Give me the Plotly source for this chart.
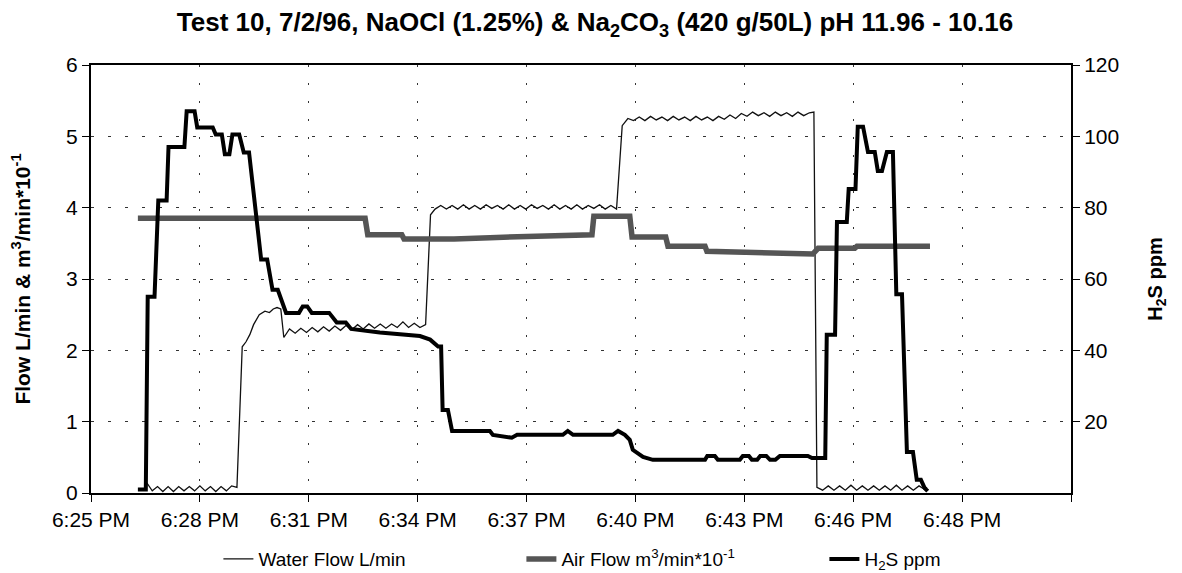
import plotly.graph_objects as go

# ---- data (minutes after the axis start at 6:25 PM) ----
tick_step_min = 2.88
x_tick_labels = ["6:25 PM", "6:28 PM", "6:31 PM", "6:34 PM", "6:37 PM",
                 "6:40 PM", "6:43 PM", "6:46 PM", "6:48 PM", ""]

water_t = [1.48, 1.62, 1.76, 1.90, 2.04, 2.18, 2.32, 2.46, 2.60, 2.74, 2.88, 3.02,
           3.16, 3.30, 3.44, 3.58, 3.72, 3.86,
           4.00, 4.10, 4.20, 4.30, 4.45, 4.60, 4.72, 4.82, 4.92, 5.02, 5.10,
           5.25, 5.40, 5.55, 5.70, 5.85, 6.00, 6.15, 6.30, 6.45, 6.60, 6.75, 6.90,
           7.05, 7.20, 7.35, 7.50, 7.65, 7.80, 7.95, 8.10, 8.25, 8.40, 8.55, 8.70, 8.85,
           8.98, 9.10,
           9.25, 9.40, 9.55, 9.70, 9.85, 10.00, 10.15, 10.30, 10.45, 10.60, 10.75, 10.90,
           11.05, 11.20, 11.35, 11.50, 11.65, 11.80, 11.95, 12.10, 12.25, 12.40, 12.55,
           12.70, 12.85, 13.00, 13.15, 13.30, 13.45, 13.60, 13.75, 13.90,
           14.05, 14.20,
           14.35, 14.50, 14.65, 14.80, 14.95, 15.10, 15.25, 15.40, 15.55, 15.70, 15.85,
           16.00, 16.15, 16.30, 16.45, 16.60, 16.75, 16.90, 17.05, 17.20, 17.35, 17.50,
           17.65, 17.80, 17.95, 18.10, 18.25, 18.40, 18.55, 18.70, 18.85, 19.00, 19.12,
           19.20,
           19.35, 19.50, 19.65, 19.80, 19.95, 20.10, 20.25, 20.40, 20.55, 20.70, 20.85,
           21.00, 21.15, 21.30, 21.45, 21.60, 21.75, 21.90, 22.05, 22.11]
water_flow = [0.14, 0.03, 0.09, 0.02, 0.09, 0.02, 0.09, 0.03, 0.09, 0.03, 0.10, 0.03,
              0.09, 0.02, 0.09, 0.03, 0.10, 0.08,
              2.05, 2.12, 2.22, 2.36, 2.50, 2.55, 2.53, 2.58, 2.60, 2.58, 2.18,
              2.30, 2.24, 2.31, 2.25, 2.32, 2.26, 2.33, 2.27, 2.34, 2.28, 2.35, 2.29,
              2.36, 2.30, 2.37, 2.31, 2.37, 2.31, 2.37, 2.32, 2.40, 2.32, 2.38, 2.32, 2.36,
              3.90, 3.98,
              4.03, 3.98, 4.03, 3.98, 4.04, 3.98, 4.03, 3.98, 4.04, 3.99, 4.03, 3.98,
              4.04, 3.98, 4.03, 3.98, 4.04, 3.99, 4.03, 3.98, 4.04, 3.98, 4.03,
              3.98, 4.04, 3.98, 4.03, 3.99, 4.04, 3.98, 4.03, 3.98,
              5.15, 5.25,
              5.22, 5.27, 5.22, 5.28, 5.23, 5.27, 5.22, 5.28, 5.23, 5.27, 5.22,
              5.28, 5.23, 5.27, 5.22, 5.28, 5.24, 5.30, 5.25, 5.32, 5.28, 5.34,
              5.29, 5.33, 5.28, 5.34, 5.29, 5.33, 5.28, 5.34, 5.29, 5.33, 5.34,
              0.08,
              0.04, 0.10, 0.04, 0.10, 0.04, 0.11, 0.04, 0.10, 0.04, 0.10, 0.04,
              0.10, 0.04, 0.11, 0.04, 0.10, 0.04, 0.10, 0.05, 0.08]

air_t = [1.24, 7.25, 7.32, 8.22, 8.28, 9.60, 10.55, 11.70, 13.25, 13.30, 14.25, 14.31,
         15.20, 15.26, 16.24, 16.29, 19.09, 19.23, 20.20, 20.26, 22.19]
air_flow = [3.85, 3.85, 3.62, 3.62, 3.56, 3.56, 3.58, 3.60, 3.62, 3.88, 3.88, 3.59,
            3.59, 3.46, 3.46, 3.39, 3.35, 3.43, 3.43, 3.46, 3.46]

h2s_t = [1.24, 1.45, 1.50, 1.68, 1.78, 2.00, 2.05, 2.47, 2.53, 2.74, 2.81, 3.22,
         3.30, 3.46, 3.54, 3.66, 3.74, 3.92, 4.04, 4.18, 4.50, 4.66, 4.80, 4.94,
         5.16, 5.50, 5.60, 5.72, 5.84, 6.30, 6.50, 6.74, 6.88, 7.64, 8.70, 8.97,
         9.18, 9.26, 9.30, 9.44, 9.55, 10.55, 10.63, 11.00, 11.13, 11.27, 12.48, 12.61,
         12.75, 13.80, 13.94, 14.12, 14.25, 14.33, 14.60, 14.86, 16.24, 16.30, 16.50, 16.58,
         17.16, 17.24, 17.40, 17.48, 17.62, 17.70, 17.86, 17.96, 18.10, 18.22, 18.96, 19.07,
         19.42, 19.46, 19.68, 19.73, 19.99, 20.04, 20.22, 20.28, 20.42, 20.55, 20.73, 20.81,
         20.92, 21.05, 21.21, 21.30, 21.45, 21.58, 21.74, 21.84, 21.95, 22.05, 22.13]
h2s_ppm = [1, 1, 55, 55, 82, 82, 97, 97, 107, 107, 102.5, 102.5,
           100.5, 100.5, 95, 95, 100.5, 100.5, 95.5, 95.5, 65.5, 65.5, 57, 57,
           50.5, 50.5, 52.3, 52.3, 50.5, 50.5, 47.8, 47.8, 46, 45, 44, 43,
           41.1, 41.1, 23.3, 23.3, 17.4, 17.4, 16.3, 15.8, 15.5, 16.3, 16.3, 17.4,
           16.3, 16.3, 17.4, 16.3, 14.9, 12.1, 10.1, 9.3, 9.3, 10.4, 10.4, 9.3,
           9.3, 10.4, 10.4, 9.3, 9.3, 10.4, 10.4, 9.3, 9.3, 10.4, 10.4, 9.8,
           9.8, 44.4, 44.4, 76, 76, 85.2, 85.2, 102.7, 102.7, 95.6, 95.6, 90.3,
           90.3, 95.6, 95.6, 55.7, 55.7, 11.5, 11.5, 3.7, 3.7, 1.4, 0.5]

left_ticks = [0, 1, 2, 3, 4, 5, 6]
right_ticks = [20, 40, 60, 80, 100, 120]

FONT = "Liberation Sans, Arial, sans-serif"

fig = go.Figure()
fig.add_trace(go.Scatter(x=water_t, y=water_flow, mode="lines",
                         name="Water Flow L/min",
                         line=dict(color="#111111", width=1.3)))
fig.add_trace(go.Scatter(x=air_t, y=air_flow, mode="lines",
                         name="Air Flow m<sup>3</sup>/min*10<sup>-1</sup>",
                         line=dict(color="#555555", width=5.5)))
fig.add_trace(go.Scatter(x=h2s_t, y=h2s_ppm, mode="lines", yaxis="y2",
                         name="H<sub>2</sub>S ppm",
                         line=dict(color="#000000", width=4)))

n_ticks = len(x_tick_labels)
# the page body adds an 8px margin, so the figure is 8px smaller than the window
fig.update_layout(
    width=1174, height=565,
    paper_bgcolor="white", plot_bgcolor="white",
    margin=dict(l=83, r=111, t=57, b=80, autoexpand=False),
    font=dict(family=FONT, size=21, color="black"),
    title=dict(text="<b>Test 10, 7/2/96, NaOCl (1.25%) &amp; Na<sub>2</sub>CO<sub>3</sub> (420 g/50L) pH 11.96 - 10.16</b>",
               x=0.5, xanchor="center", y=0.975, yanchor="middle",
               font=dict(family=FONT, size=26, color="black")),
    xaxis=dict(range=[0, tick_step_min * (n_ticks - 1)],
               tickmode="array",
               tickvals=[tick_step_min * i for i in range(n_ticks)],
               ticktext=x_tick_labels,
               showgrid=True, gridcolor="#333333", gridwidth=1, griddash="2px,16px",
               showline=True, linecolor="black", linewidth=2, mirror=True,
               ticks="outside", ticklen=7, tickcolor="black", automargin=False,
               zeroline=False, tickfont=dict(size=21)),
    yaxis=dict(range=[0, 6], tickvals=left_ticks,
               title=dict(text="<b>Flow L/min &amp; m<sup>3</sup>/min*10<sup>-1</sup></b>",
                          font=dict(size=21), standoff=31),
               showgrid=True, gridcolor="#333333", gridwidth=1, griddash="3px,14px",
               showline=True, linecolor="black", linewidth=2, mirror=True,
               ticks="outside", ticklen=7, tickcolor="black", automargin=False,
               zeroline=False, tickfont=dict(size=21)),
    yaxis2=dict(range=[0, 120], tickvals=right_ticks, overlaying="y", side="right",
                title=dict(text="<b>H<sub>2</sub>S ppm</b>", font=dict(size=20), standoff=30),
                showgrid=False, showline=True, linecolor="black", linewidth=2,
                ticks="outside", ticklen=7, tickcolor="black", automargin=False,
                zeroline=False, tickfont=dict(size=21)),
    legend=dict(orientation="h", x=0.130, xanchor="left", y=-0.11, yanchor="top",
                font=dict(size=19), entrywidth=258, entrywidthmode="pixels",
                bgcolor="rgba(0,0,0,0)"),
    showlegend=True,
)

fig.write_html("out.html")
